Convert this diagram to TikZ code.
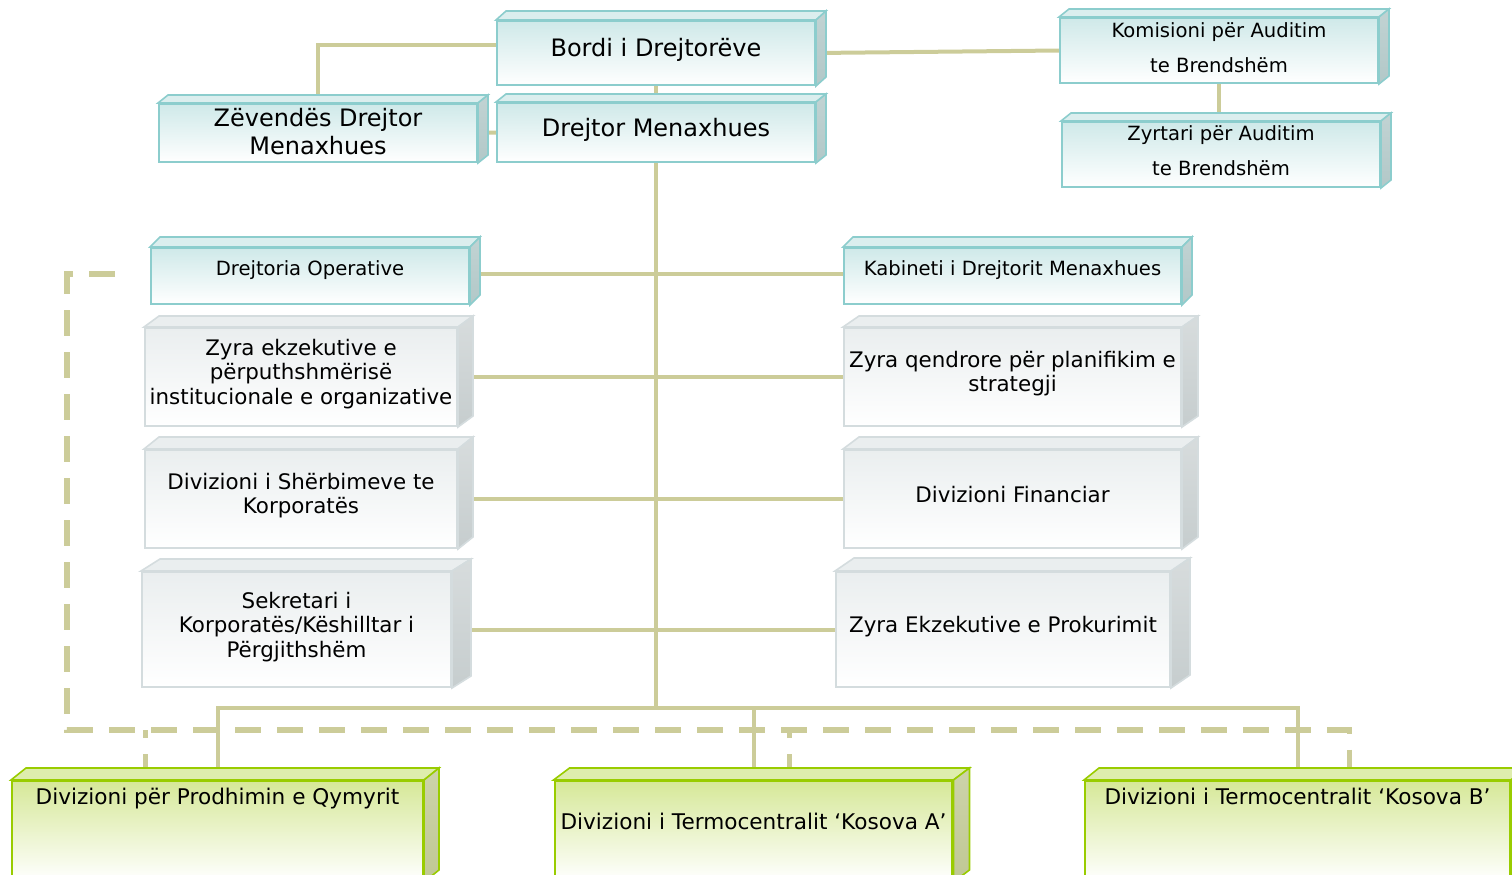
\documentclass[tikz,border=0pt]{standalone}
\usepackage{fontspec}
\setmainfont{DejaVu Sans}
\usetikzlibrary{backgrounds}

\definecolor{tealedge}{RGB}{140,205,205}
\definecolor{tealfill}{RGB}{207,233,233}
\definecolor{tealsidec}{RGB}{178,200,200}
\definecolor{greyedge}{RGB}{212,220,222}
\definecolor{greyfill}{RGB}{234,238,239}
\definecolor{greysidec}{RGB}{198,205,206}
\definecolor{greenedge}{RGB}{153,204,0}
\definecolor{greenfill}{RGB}{214,232,152}
\definecolor{greensidec}{RGB}{192,200,148}
\definecolor{linkcol}{RGB}{204,204,153}

% top and side faces of a box: node, depth x, depth y, colour set
\newcommand{\cubesides}[4]{%
  \path[#4top] (#1.north west) -- ++(#2,-#3) -- ([shift={(#2,-#3)}]#1.north east) -- (#1.north east) -- cycle;
  \path[#4side] (#1.north east) -- ([shift={(#2,-#3)}]#1.north east) -- ([shift={(#2,-#3)}]#1.south east) -- (#1.south east) -- cycle;
}

\begin{document}
\begin{tikzpicture}[x=0.5pt,y=-0.5pt]

\tikzstyle{tealbox}=[draw=tealedge, line width=1pt, top color=tealfill, middle color=tealfill!85!white, bottom color=white, align=center, inner sep=0pt, font=\fontsize{9.8}{12}\selectfont]
\tikzstyle{tealtop}=[draw=tealedge, line width=0.8pt, fill=tealfill!75!white]
\tikzstyle{tealside}=[draw=tealedge, line width=0.8pt, top color=tealsidec!80!white, bottom color=tealsidec]
\tikzstyle{greybox}=[draw=greyedge, line width=1pt, top color=greyfill, middle color=greyfill!85!white, bottom color=white, align=center, inner sep=0pt, font=\fontsize{10.7}{12.3}\selectfont]
\tikzstyle{greytop}=[draw=greyedge, line width=0.8pt, fill=greyfill]
\tikzstyle{greyside}=[draw=greyedge, line width=0.8pt, top color=greysidec!70!white, bottom color=greysidec]
\tikzstyle{greenbox}=[draw=greenedge, line width=1pt, top color=greenfill, middle color=greenfill!90!white, bottom color=white, align=center, inner sep=3pt, anchor=north, font=\fontsize{10.8}{13}\selectfont]
\tikzstyle{greentop}=[draw=greenedge, line width=0.8pt, fill=greenfill!80!white]
\tikzstyle{greenside}=[draw=greenedge, line width=0.8pt, top color=greensidec!80!white, bottom color=greensidec]
\tikzstyle{link}=[draw=linkcol, line width=2pt]
\tikzstyle{dashlink}=[draw=linkcol, line width=2.8pt, dash pattern=on 13pt off 8pt]

\useasboundingbox (0,0) rectangle (1512,874);

% top of the chart
\node (bordi) [tealbox, minimum width=159pt, minimum height=32pt, text depth=5.8pt, font=\fontsize{12}{14}\selectfont] at (656,53) {Bordi i Drejtorëve};
\node (drejtor) [tealbox, minimum width=159pt, minimum height=29.5pt, text depth=4.8pt, font=\fontsize{12}{14}\selectfont] at (656,132.5) {Drejtor Menaxhues};
\node (zevendes) [tealbox, minimum width=159pt, minimum height=29pt, text depth=2pt, font=\fontsize{12}{14}\selectfont] at (318,133) {Zëvendës Drejtor\\Menaxhues};
\node (komisioni) [tealbox, minimum width=159pt, minimum height=32.5pt, text depth=3pt, font=\fontsize{9.8}{17.5}\selectfont] at (1219,50.5) {Komisioni për Auditim\\te Brendshëm};
\node (zyrtari) [tealbox, minimum width=159pt, minimum height=32.5pt, text depth=4pt, font=\fontsize{9.8}{17.5}\selectfont] at (1221,154.5) {Zyrtari për Auditim\\te Brendshëm};
\node (operative) [tealbox, minimum width=159pt, minimum height=28pt, text depth=8.3pt] at (310,276) {Drejtoria Operative};
\node (kabineti) [tealbox, minimum width=168.5pt, minimum height=28pt, text depth=8.3pt] at (1012.5,276) {Kabineti i Drejtorit Menaxhues};

% offices and divisions
\node (ekzekutive) [greybox, minimum width=156pt, minimum height=49pt, text depth=5.5pt] at (301,377) {Zyra ekzekutive e\\përputhshmërisë\\institucionale e organizative};
\node (qendrore) [greybox, minimum width=168.5pt, minimum height=49pt, text depth=5.5pt] at (1012.5,377) {Zyra qendrore për planifikim e\\strategji};
\node (sherbimeve) [greybox, minimum width=156pt, minimum height=49pt, text depth=5.5pt] at (301,499) {Divizioni i Shërbimeve te\\Korporatës};
\node (financiar) [greybox, minimum width=168.5pt, minimum height=49pt, text depth=5pt] at (1012.5,499) {Divizioni Financiar};
\node (sekretari) [greybox, minimum width=154.5pt, minimum height=57.5pt, text depth=5pt] at (296.5,629.5) {Sekretari i\\Korporatës/Këshilltar i\\Përgjithshëm};
\node (prokurimit) [greybox, minimum width=167pt, minimum height=57.5pt, text depth=5.5pt] at (1003,629.5) {Zyra Ekzekutive e Prokurimit};

% power plants and mining
\node (qymyrit) [greenbox, minimum width=205.5pt, text height=8.5pt, text depth=35.5pt] at (217.5,780) {Divizioni për Prodhimin e Qymyrit};
\node (kosovaA) [greenbox, minimum width=197.5pt, text height=21pt, text depth=23pt] at (753.5,780) {Divizioni i Termocentralit ‘Kosova A’};
\node (kosovaB) [greenbox, minimum width=212.5pt, text height=8.5pt, text depth=35.5pt] at (1297.5,780) {Divizioni i Termocentralit ‘Kosova B’};

\cubesides{bordi}{10}{9}{teal}
\cubesides{drejtor}{10}{8}{teal}
\cubesides{zevendes}{10}{8}{teal}
\cubesides{komisioni}{10}{8}{teal}
\cubesides{zyrtari}{10}{8}{teal}
\cubesides{operative}{10}{10}{teal}
\cubesides{kabineti}{10}{10}{teal}
\cubesides{ekzekutive}{15}{11}{grey}
\cubesides{qendrore}{16}{11}{grey}
\cubesides{sherbimeve}{15}{12}{grey}
\cubesides{financiar}{16}{12}{grey}
\cubesides{sekretari}{19}{12}{grey}
\cubesides{prokurimit}{19}{13}{grey}
\cubesides{qymyrit}{15}{12}{green}
\cubesides{kosovaA}{16}{12}{green}
\cubesides{kosovaB}{15}{12}{green}

\begin{pgfonlayer}{background}
\coordinate (bus) at (656,708);
\coordinate (dashend) at (115,274);
\coordinate (dashcorner) at (67,730);
\draw[link] ([yshift=4pt]bordi.west) -| (zevendes.north);
\draw[link] (bordi.east) -- (komisioni.west);
\draw[link] (bordi.south) -- (drejtor.north);
\draw[link] (zevendes.east) -- (drejtor.west);
\draw[link] (komisioni.south) -- (komisioni.south |- zyrtari.north);
\draw[link] (drejtor.south) -- (bus);
\draw[link] ([yshift=1pt]operative.east) -- ([yshift=1pt]kabineti.west);
\draw[link] (ekzekutive.east) -- (qendrore.west);
\draw[link] (sherbimeve.east) -- (financiar.west);
\draw[link] (sekretari.east) -- (prokurimit.west);
\draw[link] (qymyrit.north) |- (bus) -| (kosovaB.north);
\draw[link] (bus) -| (kosovaA.north);
\draw[dashlink] (dashend) -| (dashcorner) -| ([xshift=26pt]kosovaB.north);
\draw[dashlink] ([xshift=-36pt]qymyrit.north) -- ([xshift=-36pt]qymyrit.north |- dashcorner);
\draw[dashlink] ([xshift=18pt]kosovaA.north) -- ([xshift=18pt]kosovaA.north |- dashcorner);
\end{pgfonlayer}
\end{tikzpicture}
\end{document}
